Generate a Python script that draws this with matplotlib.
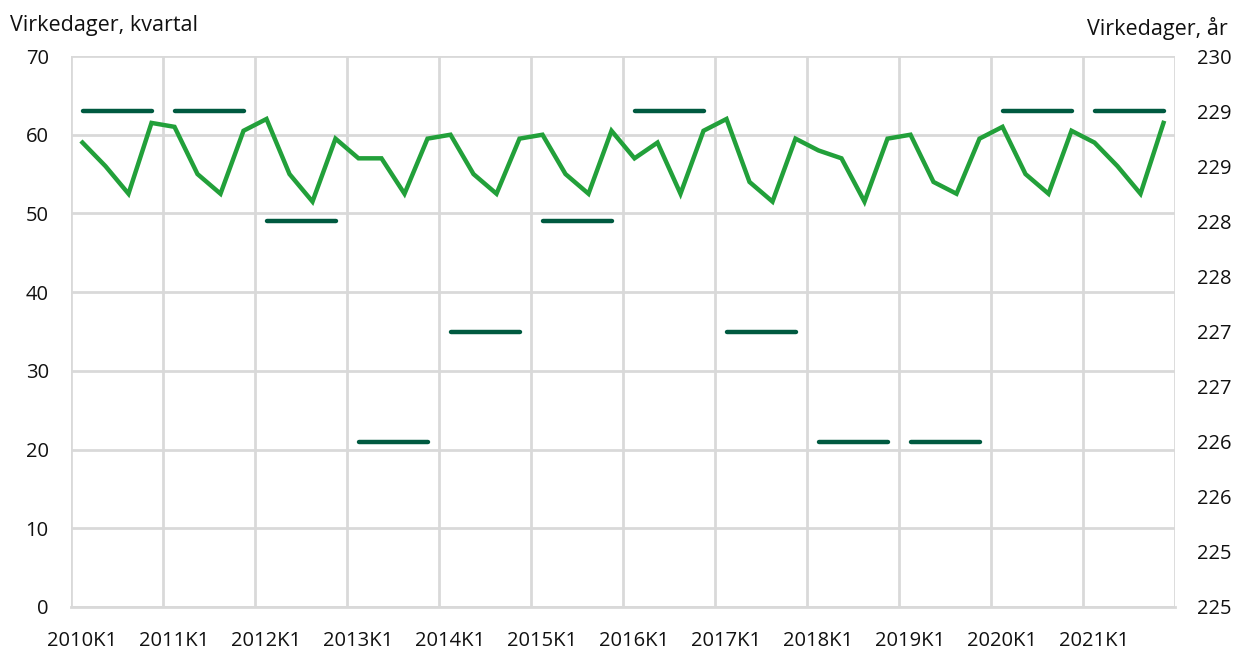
import math
import matplotlib
matplotlib.use("Agg")
import matplotlib.pyplot as plt
from matplotlib.ticker import FixedLocator, FuncFormatter

plt.rcParams['font.family'] = ['Open Sans', 'DejaVu Sans']

# Data
years = list(range(2010, 2022))
quarter_labels = [f"{y}K{q}" for y in years for q in range(1, 5)]
quarterly_days = [
    59, 56, 52.5, 61.5,    # 2010
    61, 55, 52.5, 60.5,    # 2011
    62, 55, 51.5, 59.5,    # 2012
    57, 57, 52.5, 59.5,    # 2013
    60, 55, 52.5, 59.5,    # 2014
    60, 55, 52.5, 60.5,    # 2015
    57, 59, 52.5, 60.5,    # 2016
    62, 54, 51.5, 59.5,    # 2017
    58, 57, 51.5, 59.5,    # 2018
    60, 54, 52.5, 59.5,    # 2019
    61, 55, 52.5, 60.5,    # 2020
    59, 56, 52.5, 61.5,    # 2021
]
annual_days = [229, 229, 228, 226, 227, 228, 229, 227, 226, 226, 229, 229]

green = '#22a03a'
dark = '#005a40'
grid = '#d9d9d9'
txt = '#111111'

fig = plt.figure(figsize=(12.36, 6.5), dpi=100)
ax = fig.add_axes([71 / 1236, 1 - 607 / 650, 1104 / 1236, 551 / 650])
ax2 = ax.twinx()

x = list(range(len(quarterly_days)))
ax.plot(x, quarterly_days, color=green, lw=3.2, solid_joinstyle='miter', zorder=3)

# one flat segment per year on the right axis
for i, v in enumerate(annual_days):
    ax2.plot([4 * i, 4 * i + 3], [v, v], color=dark, lw=3.2,
             solid_capstyle='round', zorder=3)

ax.set_xlim(-0.5, len(x) - 0.5)
ax.set_ylim(0, 70)
ax2.set_ylim(224.5, 229.5)

ax.set_yticks(range(0, 71, 10))
ax2.yaxis.set_major_locator(FixedLocator([224.5 + 0.5 * k for k in range(11)]))
ax2.yaxis.set_major_formatter(FuncFormatter(lambda v, p: f"{math.floor(v + 0.5 + 1e-9):d}"))

ax.set_xticks(range(0, len(x), 4))
ax.set_xticklabels(quarter_labels[::4])
ax.set_xticks([-0.5 + 4 * k for k in range(len(years) + 1)], minor=True)

ax.grid(False)
ax.yaxis.grid(True, color=grid, lw=2)
ax.xaxis.grid(True, which='minor', color=grid, lw=2)
ax.set_axisbelow(True)

for a in (ax, ax2):
    for s in a.spines.values():
        s.set_visible(False)
    a.tick_params(which='both', length=0, labelsize=14.5, colors=txt)
ax.spines['bottom'].set_visible(True)
ax.spines['bottom'].set_color(grid)
ax.spines['bottom'].set_linewidth(2)
ax.tick_params(axis='y', pad=16)
ax2.tick_params(axis='y', pad=16)
ax.tick_params(axis='x', pad=17)
ax.set_zorder(ax2.get_zorder() + 1)
ax.patch.set_visible(False)

fig.text(10 / 1236, 1 - 26 / 650, "Virkedager, kvartal", fontsize=15.5,
         ha='left', va='center', color=txt)
fig.text(1228 / 1236, 1 - 28 / 650, "Virkedager, år", fontsize=15.5,
         ha='right', va='center', color=txt)

fig.savefig('out.png', dpi=100)
